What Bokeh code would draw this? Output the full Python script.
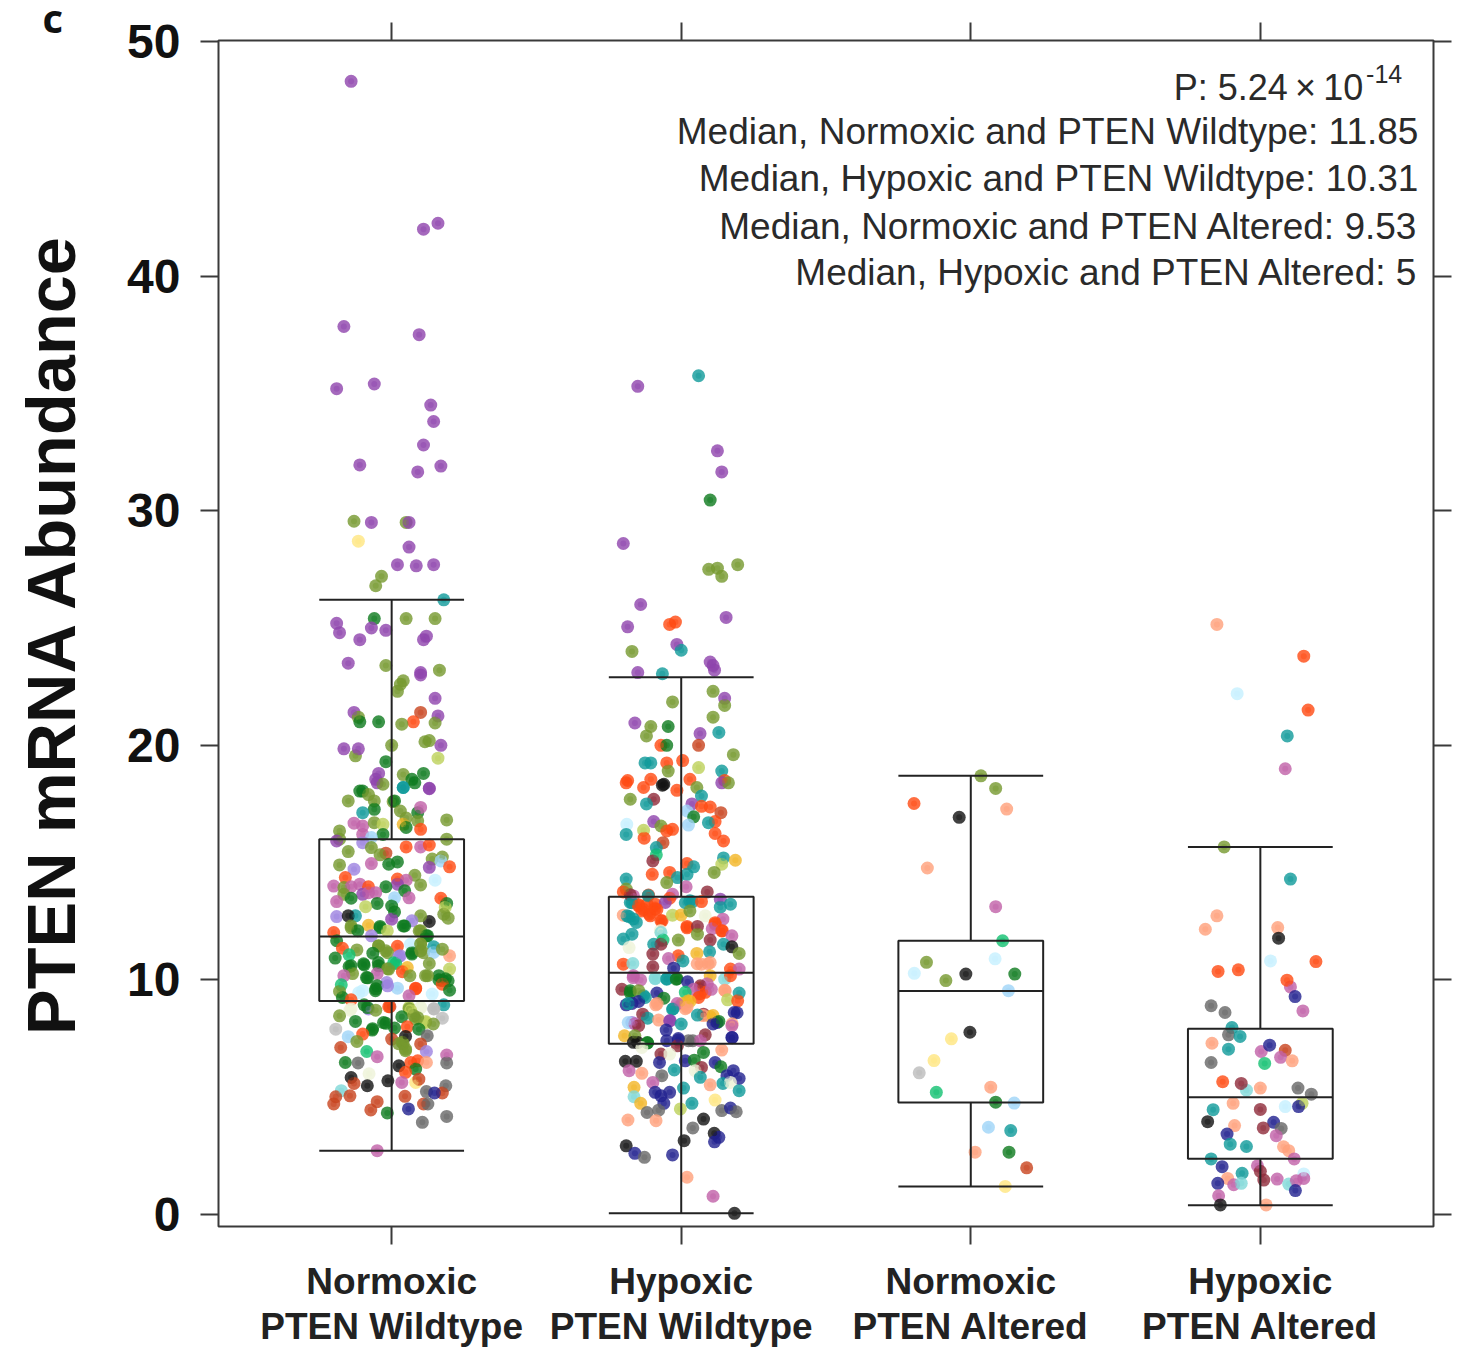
from bokeh.plotting import figure
from bokeh.models import ColumnDataSource, FixedTicker, LinearAxis, Range1d, Label, Title
from bokeh.embed import file_html
from bokeh.resources import INLINE

category_labels = ["Normoxic\nPTEN Wildtype", "Hypoxic\nPTEN Wildtype", "Normoxic\nPTEN Altered", "Hypoxic\nPTEN Altered"]
y_ticks = [0, 10, 20, 30, 40, 50]

whisker_low = [2.72, 0.05, 1.2, 0.4]
q1 = [9.1, 7.28, 4.77, 2.38]
medians = [11.85, 10.31, 9.53, 5.0]
q3 = [16.0, 13.55, 11.67, 7.92]
whisker_high = [26.2, 22.9, 18.7, 15.67]

annotation_lines = [
    "Median, Normoxic and PTEN Wildtype: 11.85",
    "Median, Hypoxic and PTEN Wildtype: 10.31",
    "Median, Normoxic and PTEN Altered: 9.53",
    "Median, Hypoxic and PTEN Altered: 5",
]

palette = {
    "pu": "#8E44AD", "ol": "#76982E", "gr": "#0E7A1E", "or": "#FF4A12", "sa": "#FFA07A",
    "te": "#0F9A9A", "na": "#20208F", "bk": "#111111", "gy": "#666666", "br": "#C8431E",
    "pk": "#C060A8", "lb": "#9FD4F7", "pb": "#C5F0FF", "ye": "#FFE680", "go": "#F2B526",
    "sp": "#12C070", "ma": "#8E2A3A", "pe": "#9C82E0", "lo": "#BDD15A", "pl": "#EEF3D8",
    "lg": "#BBBBBB", "lt": "#7FD8D8",
}

# (jitter, abundance, tumour-type key)
group1 = [
(-.14,48.3,"pu"),(.16,42.25,"pu"),(.11,42.0,"pu"),(-.165,37.85,"pu"),(.095,37.5,"pu"),(-.19,35.2,"pu"),(-.06,35.4,"pu"),
(.135,34.5,"pu"),(.145,33.8,"pu"),(.11,32.8,"pu"),(.09,31.65,"pu"),(.17,31.9,"pu"),(-.11,31.95,"pu"),
(-.13,29.55,"ol"),(-.07,29.5,"pu"),(.05,29.5,"ol"),(.06,29.5,"pu"),(-.115,28.7,"ye"),(.06,28.45,"pu"),(.02,27.7,"pu"),
(.085,27.65,"pu"),(.145,27.7,"pu"),(-.035,27.2,"ol"),(-.055,26.8,"ol"),(.18,26.2,"te"),
(-.06,25.4,"gr"),(.05,25.4,"ol"),(-.19,25.2,"pu"),(.15,25.4,"ol"),(-.18,24.8,"pu"),(-.11,24.5,"pu"),(-.02,24.9,"pu"),(-.07,25.0,"pu"),
(.12,24.65,"pu"),(.11,24.5,"pu"),(-.15,23.5,"pu"),(-.02,23.4,"ol"),(.165,23.2,"ol"),(.10,23.1,"pu"),(.1,23.0,"pu"),
(.04,22.75,"ol"),(.03,22.6,"ol"),(.02,22.3,"ol"),(.15,22.0,"pu"),(-.13,21.4,"pu"),(.16,21.25,"pu"),(-.115,21.2,"ol"),
(.1,21.4,"br"),(-.045,21.0,"gr"),(-.11,21.0,"gr"),(.075,21.0,"or"),(.15,20.95,"ol"),(.035,20.9,"ol"),
(.17,20.0,"pu"),(-.165,19.85,"pu"),(-.125,19.55,"ol"),(0,20.0,"ol"),(.115,20.15,"ol"),(.13,20.2,"ol"),(-.115,19.85,"pu"),
(.16,19.45,"lo"),(-.02,19.3,"gr"),(-.045,18.8,"pu"),(-.055,18.55,"pu"),(.04,18.75,"ol"),(.11,18.8,"gr"),(.07,18.55,"gr"),
(.04,18.2,"te"),(.13,18.15,"pu"),(-.1,18.05,"gr"),(.005,17.6,"ol"),
(-.11,18.05,"gr"),(-.15,17.63,"ol"),(-.05,18.4,"pu"),(-.03,18.34,"ol"),(.04,18.2,"te"),(.13,18.17,"pu"),(.08,18.4,"gr"),
(-.08,17.9,"ol"),(-.06,17.63,"ol"),(-.06,17.27,"gr"),(-.1,17.13,"te"),(.01,17.63,"gr"),(.03,17.2,"ol"),(.09,17.13,"gr"),
(.1,17.35,"pk"),(.05,16.9,"ol"),(.19,16.82,"ol"),(.09,16.78,"ol"),(-.13,16.68,"pk"),(-.10,16.56,"pk"),(-.06,16.7,"ol"),
(-.03,16.63,"lo"),(.04,16.63,"go"),(.05,16.5,"gr"),(.10,16.42,"or"),(-.18,16.35,"ol"),(-.10,16.2,"pk"),(-.03,16.2,"gr"),
(-.18,16.0,"ol"),(-.19,15.92,"pu"),(-.07,16.07,"lb"),(-.10,15.85,"pe"),(.19,16.0,"ol"),(-.07,15.64,"ol"),(.05,15.67,"or"),
(.1,15.67,"pk"),(.13,15.75,"or"),(-.15,15.47,"ol"),(-.02,15.4,"br"),(-.04,15.33,"ol"),(.14,15.15,"ol"),(.175,15.24,"ol"),
(.17,15.07,"lb"),(-.18,14.9,"ol"),(-.07,14.96,"pk"),(-.01,14.93,"gr"),(.02,15.03,"gr"),(.13,14.8,"pu"),(.2,14.82,"or"),
(-.13,14.72,"pe"),(.15,14.25,"pb"),(-.16,14.36,"or"),(.08,14.46,"ol"),(.1,14.05,"ol"),(.02,14.3,"or"),(.05,14.25,"pk"),
(.02,14.08,"pu"),(-.2,14.0,"pk"),(-.11,14.08,"pk"),(-.08,13.97,"or"),(-.165,13.94,"ol"),(-.02,13.97,"gr"),(-.14,13.97,"pk"),
(-.10,13.65,"pu"),(-.08,13.72,"pk"),(-.055,13.72,"pk"),(-.165,13.65,"ol"),(-.14,13.48,"gr"),(.045,13.8,"gr"),(.06,13.5,"pk"),
(.17,13.48,"or"),(-.19,13.34,"pk"),(-.05,13.26,"gr"),(.01,13.5,"lb"),(0,13.15,"gr"),(.19,13.26,"gr"),(.185,13.09,"lo"),
(.01,12.9,"gr"),(-.09,13.12,"lo"),(-.19,12.7,"pe"),(-.125,12.73,"te"),(-.15,12.73,"bk"),(.18,12.8,"ol"),(.195,12.63,"ol"),
(.13,12.49,"bk"),(.1,12.73,"ol"),(0,12.59,"pu"),(.07,12.52,"pe"),(.045,12.3,"gr"),(-.14,12.3,"ol"),(-.08,12.33,"go"),
(-.14,12.22,"ol"),(-.117,12.1,"gr"),(-.04,12.22,"gr"),(.04,12.3,"gr"),(.1,12.1,"ol"),(.124,11.88,"gr"),
(-.04,12.28,"gr"),(.095,12.09,"ol"),(-.015,12.09,"lo"),(-.2,12.02,"or"),(-.07,11.88,"pe"),(.12,11.88,"gr"),(-.19,11.67,"gr"),
(.145,11.41,"te"),(.1,11.52,"ol"),(-.045,11.45,"ol"),(.02,11.43,"or"),(-.17,11.35,"or"),(-.12,11.28,"ol"),(.065,11.52,"pb"),
(-.045,11.46,"ol"),(-.014,11.16,"ol"),(.10,11.54,"ol"),(.11,11.16,"ol"),(.03,11.03,"pe"),(.07,11.16,"gr"),
(-.02,11.24,"ol"),(-.065,11.14,"gr"),(-.147,11.07,"sp"),(-.195,10.93,"gr"),(.025,11.0,"pe"),(.07,11.1,"gr"),(.1,11.24,"ol"),
(.145,11.17,"lb"),(.2,11.03,"sa"),(.175,11.31,"ol"),(-.046,10.74,"gr"),(-.095,10.64,"gr"),(-.147,10.57,"gr"),(.014,10.7,"sp"),
(-.14,10.6,"gr"),(-.045,10.6,"gr"),(-.014,10.48,"ol"),(-.097,10.69,"gr"),(.007,10.73,"sp"),
(-.01,10.46,"ol"),(.054,10.53,"go"),(.13,10.7,"ol"),(.2,10.46,"lo"),(-.135,10.27,"ol"),(.037,10.35,"or"),(.117,10.18,"ol"),
(.063,10.18,"ol"),(-.165,10.18,"pk"),(-.087,10.1,"gr"),(-.05,10.27,"pk"),(.163,10.0,"gr"),(.195,9.96,"gr"),(-.017,9.89,"pe"),
(.176,9.97,"gr"),(.163,10.18,"gr"),(.186,10.05,"gr"),(.124,10.18,"ol"),(-.083,10.09,"gr"),
(-.05,9.75,"gr"),(-.174,9.79,"sp"),(.02,9.65,"lb"),(.083,9.65,"or"),(.175,9.82,"or"),(.2,9.56,"gr"),(-.18,9.51,"ol"),
(-.014,9.75,"pe"),(-.114,9.45,"pb"),(.083,9.62,"or"),(-.055,9.62,"gr"),
(-.1,9.54,"pb"),(-.056,9.54,"gr"),(.14,9.4,"pb"),(-.17,9.25,"gr"),(-.14,9.15,"or"),(.06,9.32,"pk"),(-.006,8.86,"br"),
(.18,8.94,"te"),(-.144,8.71,"pl"),(-.08,8.76,"pe"),(.1,8.83,"pl"),(.146,8.76,"lg"),(.06,8.83,"lo"),(-.095,8.94,"gr"),
(-.14,8.77,"pl"),(-.083,8.82,"gr"),(-.01,8.86,"or"),(.06,8.77,"ol"),(.1,8.82,"pl"),(.145,8.77,"lg"),(.066,8.69,"lo"),
(-.055,8.71,"ol"),(-.18,8.47,"ol"),(.035,8.43,"gr"),(-.125,8.23,"gr"),(.175,8.37,"lg"),(.117,8.23,"lo"),(.083,8.33,"ol"),
(-.028,8.18,"gr"),(.117,8.18,"lo"),(.09,8.39,"ol"),(-.066,7.92,"gr"),(.076,8.48,"ol"),
(.144,8.12,"ol"),(-.02,8.15,"gr"),(.01,7.95,"gr"),(-.193,7.9,"lg"),(.054,8.0,"or"),(.094,7.9,"gr"),(-.067,7.86,"gr"),
(-.1,7.69,"or"),(-.15,7.58,"lb"),(.048,7.59,"bk"),(.123,7.62,"gy"),(0,7.48,"br"),(-.12,7.38,"ol"),(.037,7.34,"ol"),
(.04,7.28,"ol"),(.024,7.28,"ol"),(.048,6.98,"ol"),
(.1,7.27,"br"),(-.176,7.12,"br"),(.048,7.05,"ol"),(.12,6.95,"pe"),(-.086,6.95,"sp"),(-.05,6.73,"pk"),(.19,6.8,"pk"),
(-.16,6.48,"gr"),(-.116,6.46,"gy"),(.19,6.46,"gy"),(.066,6.48,"or"),(.09,6.55,"or"),(.12,6.48,"sa"),(.025,6.34,"bk"),
(.083,6.2,"gr"),(.048,6.06,"or"),(-.078,6.0,"pl"),(-.14,5.84,"bk"),(-.13,5.59,"br"),(-.084,5.49,"bk"),(-.013,5.7,"bk"),
(.035,5.63,"pk"),(.083,5.63,"ye"),(.094,5.77,"br"),(.187,5.49,"gy"),(.12,5.24,"gy"),(.175,5.18,"br"),(.148,5.18,"na"),
(-.174,5.28,"lt"),(-.193,5.02,"br"),(-.144,5.06,"br"),(.046,5.04,"br"),(-.2,4.71,"br"),(-.05,4.81,"br"),(.11,4.71,"br"),
(.125,4.71,"gy"),(-.072,4.46,"br"),(.058,4.5,"na"),(-.015,4.33,"gr"),(.19,4.18,"gy"),(.106,3.93,"gy"),(-.05,2.72,"pk"),
]

group2 = [
(-.15,35.3,"pu"),(.06,35.75,"te"),(.125,32.55,"pu"),(.14,31.65,"pu"),(.1,30.45,"gr"),(-.2,28.6,"pu"),(.195,27.7,"ol"),
(.095,27.5,"ol"),(.125,27.55,"ol"),(.14,27.2,"ol"),(-.14,26.0,"pu"),(.155,25.45,"pu"),(-.185,25.05,"pu"),(-.04,25.15,"or"),
(-.02,25.25,"or"),(-.17,24.0,"ol"),(-.015,24.3,"pu"),(0,24.05,"te"),(.1,23.55,"pu"),(.11,23.4,"pu"),(.115,23.2,"pu"),
(-.065,23.05,"te"),(-.15,23.1,"pu"),(.15,22.0,"pu"),(.11,22.3,"ol"),(.15,21.7,"ol"),(-.03,21.85,"ol"),(-.16,20.95,"pu"),
(-.105,20.8,"ol"),(-.045,20.8,"gr"),(.11,21.2,"ol"),(.13,20.55,"te"),(.065,20.5,"pu"),(-.12,20.4,"ol"),(.18,19.6,"ol"),
(-.07,20.0,"or"),(-.05,20.0,"gr"),(.06,20.0,"br"),(-.105,19.25,"te"),(-.125,19.25,"te"),(-.05,19.25,"or"),(.005,19.35,"or"),
(.06,19.05,"lo"),(-.045,18.9,"ol"),(-.185,18.5,"or"),(-.105,18.55,"or"),(.14,18.9,"te"),(.15,18.5,"or"),(-.065,18.3,"bk"),(.03,18.55,"or"),
(-.06,18.34,"bk"),(-.19,18.4,"or"),(-.13,18.2,"or"),(-.015,18.08,"or"),(.054,18.2,"ol"),(.14,18.4,"pu"),(.163,18.4,"ol"),
(.07,17.84,"te"),(-.176,17.7,"ol"),(-.095,17.7,"ma"),(-.12,17.5,"te"),(.037,17.5,"pu"),(.1,17.37,"or"),(.137,17.13,"br"),
(.07,17.4,"or"),(.02,17.2,"lb"),(.043,16.95,"gr"),(-.095,16.75,"pu"),(.117,16.75,"or"),(-.188,16.63,"pb"),(.025,16.6,"lb"),
(-.07,16.56,"ol"),(.094,16.7,"te"),(-.13,16.38,"lo"),(-.03,16.42,"or"),(-.05,16.35,"or"),(-.19,16.2,"te"),(.117,16.24,"or"),
(-.128,16.04,"or"),(.146,15.92,"or"),(-.063,15.85,"br"),(-.086,15.64,"te"),(-.086,15.33,"sp"),(-.098,15.07,"ma"),(.146,15.2,"te"),
(.187,15.1,"go"),(.14,14.93,"lo"),(.02,14.96,"or"),(.043,14.82,"te"),(.114,14.58,"ol"),(-.1,14.5,"or"),(-.04,14.58,"or"),
(-.013,14.36,"te"),(.02,14.5,"te"),(-.05,14.15,"ol"),(-.19,14.3,"te"),(.017,13.97,"pk"),(-.19,13.87,"ol"),(-.2,13.75,"or"),
(.09,13.75,"ma"),(-.03,13.65,"pk"),(-.113,13.62,"br"),(-.165,13.58,"pk"),(-.176,13.3,"te"),(-.147,13.2,"or"),(-.118,13.23,"or"),
(-.176,13.63,"ma"),(-.114,13.59,"te"),(-.17,13.29,"te"),(.014,13.29,"te"),(.038,13.33,"te"),
(-.09,13.23,"or"),(-.04,13.48,"or"),(-.055,13.3,"pu"),(.03,13.37,"te"),(.07,13.34,"or"),(.135,13.44,"pu"),(.135,13.1,"te"),
(.17,13.23,"te"),(-.136,12.94,"or"),(-.11,12.8,"or"),(-.084,13.0,"or"),(-.07,12.52,"or"),(-.2,12.76,"sa"),(-.18,12.7,"te"),
(-.13,13.0,"or"),(-.148,13.16,"or"),(-.107,12.73,"or"),(-.09,13.03,"or"),(-.066,12.52,"or"),(-.166,12.6,"te"),(-.187,12.73,"te"),
(-.155,12.45,"te"),(-.03,12.76,"lo"),(0,12.77,"go"),(.03,12.94,"ol"),(.083,12.73,"pl"),(.144,12.59,"pk"),(.117,12.38,"or"),
(.02,12.22,"or"),(.117,12.44,"or"),(.142,12.1,"or"),(.107,12.18,"pk"),(-.072,12.1,"pl"),
(.02,12.28,"or"),(.056,12.28,"ma"),(.14,12.09,"or"),(.056,11.95,"ol"),(-.07,12.02,"lt"),(-.17,11.95,"te"),(-.2,11.74,"te"),
(.175,11.88,"pk"),(.1,11.7,"ma"),(-.01,11.7,"ol"),(-.063,11.7,"sp"),(-.18,11.38,"pl"),(-.095,11.52,"te"),(-.07,11.52,"ma"),
(.146,11.52,"te"),(.175,11.41,"bk"),(.2,11.13,"ol"),(.098,11.2,"te"),(.054,11.13,"go"),(-.098,11.1,"ma"),(-.01,11.03,"or"),
(-.044,10.91,"pk"),(.006,10.81,"te"),(-.2,10.67,"or"),(-.167,10.7,"lt"),(-.098,10.56,"ma"),(-.026,10.5,"na"),(.07,10.67,"sa"),
(.055,10.69,"sa"),(.093,10.69,"sa"),(-.166,10.1,"pk"),(-.09,10.05,"lt"),(-.05,10.05,"te"),(-.014,10.05,"gr"),
(.1,10.74,"sa"),(.17,10.46,"or"),(.2,10.46,"pk"),(-.165,10.18,"pk"),(-.14,10.0,"pk"),(-.09,10.08,"lt"),(-.05,10.03,"te"),
(-.017,10.03,"gr"),(.1,10.18,"go"),(.15,10.03,"lt"),(.17,10.18,"or"),(.022,9.92,"na"),(-.205,9.6,"ma"),(-.176,9.54,"gr"),
(.066,9.67,"or"),(.09,9.84,"pk"),(.066,9.41,"or"),(-.176,9.45,"gr"),(-.13,9.33,"te"),(.152,9.54,"sa"),
(-.147,9.54,"ol"),(-.084,9.44,"na"),(.066,9.75,"ma"),(.083,9.47,"or"),(.043,9.6,"pk"),(.104,9.6,"pk"),(.014,9.47,"sp"),
(.15,9.56,"sa"),(.2,9.44,"te"),(-.124,9.25,"te"),(-.06,9.22,"gr"),(-.19,8.94,"na"),(-.17,9.0,"na"),(-.147,9.08,"na"),
(-.183,8.99,"te"),(-.083,8.99,"sa"),(.003,8.99,"go"),(.024,9.11,"go"),(.014,8.77,"sa"),(-.028,8.77,"te"),(-.014,8.99,"pk"),
(-.088,8.94,"sa"),(.06,9.25,"or"),(.16,9.15,"lo"),(.195,9.11,"or"),(.03,9.08,"go"),(-.03,8.75,"te"),(.02,8.83,"sa"),
(.183,8.61,"na"),(.077,8.54,"ma"),(.1,8.44,"go"),(-.17,8.19,"pe"),(-.133,8.54,"ma"),(-.116,8.37,"te"),(-.078,8.29,"sa"),
(-.038,8.26,"pu"),(.076,8.48,"sa"),(.11,8.48,"go"),(.124,8.18,"na"),(.193,8.6,"na"),(.176,8.13,"sa"),(-.183,8.18,"lb"),(-.16,8.13,"pk"),
(-.04,8.26,"pu"),(.056,8.5,"te"),(.13,8.23,"gr"),(.11,8.12,"na"),(0,8.12,"te"),(.175,8.05,"pk"),(-.147,8.05,"ma"),
(-.052,7.86,"na"),(-.196,7.62,"go"),(-.16,7.62,"ol"),(.083,7.66,"ma"),(.175,7.55,"na"),(-.01,7.44,"na"),(.025,7.41,"gy"),
(-.05,7.41,"na"),(-.01,7.5,"na"),(.04,7.41,"gy"),(.176,7.54,"na"),(-.15,7.33,"bk"),(-.117,7.33,"gr"),
(-.165,7.34,"bk"),(-.116,7.31,"gr"),(.066,7.41,"pk"),(-.136,7.12,"pl"),(-.013,7.19,"ma"),(.077,6.91,"gr"),(.14,7.01,"sa"),
(-.07,6.84,"ma"),(-.04,6.84,"pl"),(-.193,6.53,"bk"),(-.155,6.53,"bk"),(-.075,6.48,"na"),(.014,6.55,"na"),(.045,6.58,"gr"),
(.117,6.48,"na"),(.137,6.3,"gr"),(-.18,6.13,"pk"),(-.136,6.02,"sa"),(-.067,5.92,"gy"),(-.024,6.16,"te"),(.07,6.27,"ma"),
(.048,6.13,"pl"),(.18,6.13,"na"),(.158,5.92,"na"),(.066,5.85,"te"),(.2,5.8,"na"),(-.098,5.63,"pk"),(.144,5.59,"te"),
(.1,5.53,"sa"),(.17,5.63,"pl"),(.008,5.39,"te"),(-.163,5.42,"go"),(.2,5.28,"te"),(-.09,5.21,"na"),(-.04,5.21,"na"),
(-.07,5.06,"na"),(-.163,5.02,"lt"),(.117,4.88,"ye"),(-.06,4.74,"na"),(-.14,4.74,"go"),(.037,4.74,"te"),(-.003,4.5,"lo"),
(-.078,4.45,"gy"),(-.118,4.35,"gy"),(.14,4.43,"gy"),(.17,4.54,"na"),(.19,4.38,"gy"),(.077,4.07,"bk"),(-.184,4.03,"sa"),
(-.087,4.0,"sa"),(.04,3.69,"gy"),(.114,3.46,"bk"),(.13,3.29,"na"),(.115,3.1,"na"),(.01,3.15,"bk"),(-.19,2.93,"bk"),
(-.16,2.61,"na"),(-.127,2.44,"gy"),(-.03,2.54,"na"),(.02,1.59,"sa"),(.11,.78,"pk"),(.184,.05,"bk"),
]

group3 = [
(.035,18.7,"ol"),(.086,18.16,"ol"),(-.196,17.52,"or"),(.124,17.28,"sa"),(-.04,16.93,"bk"),(-.15,14.77,"sa"),(.086,13.12,"pk"),
(.11,11.67,"sp"),(.084,10.9,"pb"),(-.153,10.75,"ol"),(-.195,10.28,"pb"),(-.017,10.25,"bk"),(.152,10.25,"gr"),(-.086,9.97,"ol"),
(.13,9.54,"lb"),(-.003,7.77,"bk"),(-.067,7.49,"ye"),(-.127,6.56,"ye"),(-.178,6.04,"lg"),(-.119,5.21,"sp"),(.069,5.43,"sa"),
(.086,4.79,"gr"),(.15,4.75,"lb"),(.061,3.72,"lb"),(.138,3.58,"te"),(.015,2.66,"sa"),(.132,2.66,"gr"),(.193,1.99,"br"),(.119,1.2,"ye"),
]

group4 = [
(-.15,25.15,"sa"),(.15,23.8,"or"),(-.08,22.2,"pb"),(.165,21.5,"or"),(.093,20.4,"te"),(.086,19.0,"pk"),(-.125,15.67,"ol"),(.104,14.3,"te"),
(-.15,12.73,"sa"),(-.19,12.16,"sa"),(.06,12.23,"sa"),(.063,11.78,"bk"),(.035,10.81,"pb"),(.192,10.78,"or"),(-.146,10.36,"or"),
(-.076,10.43,"or"),(.104,9.7,"pk"),(.092,9.99,"or"),(.12,9.29,"na"),(.147,8.68,"pk"),(-.17,8.9,"gy"),(-.122,8.61,"gy"),
(-.098,7.97,"te"),(-.11,7.66,"gy"),(-.07,7.59,"te"),(-.167,7.3,"sa"),(-.11,7.05,"te"),(.003,6.95,"pk"),(.032,7.22,"na"),
(.086,7.0,"br"),(.07,6.7,"pk"),(.11,6.55,"sa"),(-.17,6.48,"gy"),(.015,6.44,"sp"),(-.13,5.66,"or"),(-.048,5.3,"lt"),(-.066,5.59,"ma"),
(0,5.39,"sa"),(.13,5.39,"gy"),(.176,5.13,"gy"),(-.094,4.74,"sa"),(.144,4.74,"lo"),(.132,4.6,"na"),(.086,4.6,"pb"),
(-.163,4.47,"te"),(0,4.48,"ma"),(-.182,3.96,"bk"),(-.089,3.79,"sa"),(.046,3.93,"na"),(.01,3.69,"ma"),(.072,3.67,"gy"),
(.055,3.36,"pk"),(-.115,3.43,"na"),(-.104,3.0,"te"),(-.048,2.9,"te"),(.08,2.89,"sa"),(.098,2.72,"sa"),(.117,2.37,"pk"),
(-.17,2.37,"te"),(-.132,2.04,"na"),(-.01,2.08,"pk"),(0,1.84,"ma"),(-.063,1.76,"te"),(.15,1.73,"pb"),(-.113,1.54,"sa"),
(.012,1.47,"ma"),(.058,1.51,"pk"),(-.147,1.33,"na"),(-.092,1.27,"pk"),(-.066,1.33,"lt"),(.098,1.3,"lt"),(.124,1.44,"pk"),
(.15,1.54,"pk"),(.121,1.02,"na"),(-.144,.8,"pk"),(-.138,.41,"bk"),(.02,.41,"sa"),
]

groups = [group1, group2, group3, group4]
FRAME = "#3a3a3a"
BOX = "#222222"
SANS = "Liberation Sans"

p = figure(frame_width=1215, frame_height=1186, output_backend="svg", toolbar_location=None,
           x_range=Range1d(0.402, 4.598), y_range=Range1d(-0.51, 50.04),
           min_border_left=218, min_border_right=19, min_border_top=40, min_border_bottom=121,
           background_fill_color="white", border_fill_color="white")
p.grid.visible = False
p.outline_line_color = FRAME
p.outline_line_width = 2

xs, ys, cs = [], [], []
for gi, g in enumerate(groups):
    for off, val, key in g:
        xs.append(gi + 1 + off)
        ys.append(val)
        cs.append(palette[key])
src = ColumnDataSource(dict(x=xs, y=ys, c=cs))
p.scatter("x", "y", source=src, size=13, fill_color="c", line_color=None, fill_alpha=0.8)
p.scatter("x", "y", source=src, size=6, fill_color="c", line_color=None, fill_alpha=0.45)

cx = [1, 2, 3, 4]
hw = 0.25
p.segment(cx, q3, cx, whisker_high, line_color=BOX, line_width=2)
p.segment(cx, whisker_low, cx, q1, line_color=BOX, line_width=2)
p.segment([c - hw for c in cx], whisker_high, [c + hw for c in cx], whisker_high, line_color=BOX, line_width=2)
p.segment([c - hw for c in cx], whisker_low, [c + hw for c in cx], whisker_low, line_color=BOX, line_width=2)
p.segment([c - hw for c in cx], medians, [c + hw for c in cx], medians, line_color=BOX, line_width=2)
p.quad(left=[c - hw for c in cx], right=[c + hw for c in cx], bottom=q1, top=q3,
       fill_color=None, line_color=BOX, line_width=2)

# left axis
yax = p.yaxis[0]
yax.ticker = FixedTicker(ticks=y_ticks)
yax.major_tick_in = 0
yax.major_tick_out = 18
yax.minor_tick_out = 0
yax.minor_tick_in = 0
yax.axis_line_color = None
yax.major_tick_line_color = FRAME
yax.major_tick_line_width = 2
yax.major_label_text_font = SANS
yax.major_label_text_font_style = "bold"
yax.major_label_text_font_size = "48px"
yax.major_label_text_color = "#111111"
yax.major_label_standoff = 20
yax.major_label_orientation = "horizontal"
yax.axis_label = "PTEN mRNA Abundance"
yax.axis_label_text_font = SANS
yax.axis_label_text_font_style = "bold"
yax.axis_label_text_font_size = "68.5px"
yax.axis_label_text_color = "#111111"
yax.axis_label_standoff = 34

# bottom axis
xax = p.xaxis[0]
xax.ticker = FixedTicker(ticks=cx)
xax.major_label_overrides = {c: l for c, l in zip(cx, category_labels)}
xax.major_tick_in = 0
xax.major_tick_out = 18
xax.minor_tick_out = 0
xax.minor_tick_in = 0
xax.axis_line_color = None
xax.major_tick_line_color = FRAME
xax.major_tick_line_width = 2
xax.major_label_text_font = SANS
xax.major_label_text_font_style = "bold"
xax.major_label_text_font_size = "37px"
xax.major_label_text_line_height = 1.1
xax.major_label_text_color = "#222222"
xax.major_label_standoff = 16

top = LinearAxis(ticker=FixedTicker(ticks=cx), major_label_overrides={c: "" for c in cx}, major_tick_in=0,
                 major_tick_out=18, minor_tick_out=0, minor_tick_in=0, axis_line_color=None,
                 major_tick_line_color=FRAME, major_tick_line_width=2, major_label_standoff=0,
                 major_label_text_font_size="1px")
right = LinearAxis(ticker=FixedTicker(ticks=y_ticks), major_label_overrides={t: "" for t in y_ticks}, major_tick_in=0,
                   major_tick_out=18, minor_tick_out=0, minor_tick_in=0, axis_line_color=None,
                   major_tick_line_color=FRAME, major_tick_line_width=2, major_label_standoff=0,
                   major_label_text_font_size="1px")
p.add_layout(top, "above")
p.add_layout(right, "right")

# panel letter: a title, so that it lies in a panel and is not clipped to the frame
p.add_layout(Title(text="c", text_font="Open Sans", text_font_style="bold", text_font_size="40px",
                   text_color="#111111", align="left", offset=-176, standoff=-45), "above")
# an invisible empty axis outside the title pushes the letter down to its place
spacer = LinearAxis(ticker=FixedTicker(ticks=[1]), major_label_overrides={1: ""}, major_tick_in=0,
                    major_tick_out=8, minor_tick_out=0, minor_tick_in=0, axis_line_color=None,
                    major_tick_line_color=None, major_label_standoff=0, major_label_text_font_size="1px")
p.add_layout(spacer, "above")

# annotation text, right-aligned inside the frame
TXT = "#2a2a2a"
for line, yv in zip(annotation_lines, [45.53, 43.53, 41.48, 39.52]):
    p.add_layout(Label(x=4.546, y=yv, y_offset=15, text=line, text_font=SANS, text_font_size="37px",
                       text_color=TXT, text_align="right", text_baseline="alphabetic"))
p.add_layout(Label(x=4.49, y=47.44, y_offset=14, text="P: 5.24\u2009\u00d7\u200910", text_font=SANS, text_font_size="36px",
                   text_color=TXT, text_align="right", text_baseline="alphabetic", x_offset=-39))
p.add_layout(Label(x=4.49, y=48.08, y_offset=12, text="-14", text_font=SANS, text_font_size="25px",
                   text_color=TXT, text_align="right", text_baseline="alphabetic"))

open("out.html", "w").write(file_html(p, INLINE))
